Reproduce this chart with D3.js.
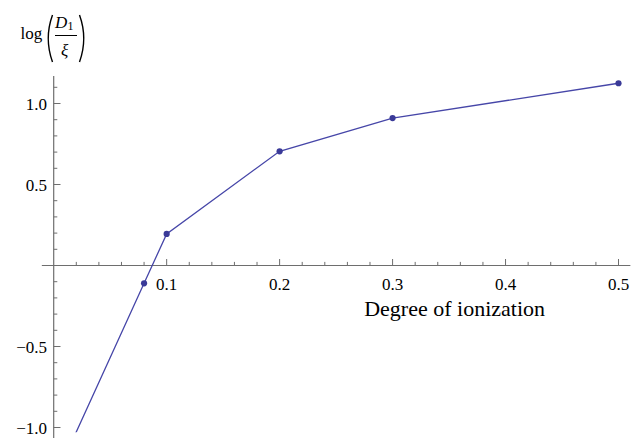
<!DOCTYPE html>
<html><head><meta charset="utf-8">
<script src="https://cdn.jsdelivr.net/npm/d3@7"></script>
<style>body{margin:0;background:#fff}svg{display:block}text{font-family:"Liberation Serif","Times New Roman",Times,serif;fill:#000}</style>
</head><body><svg id="c" width="640" height="438"></svg>
<script>
const ionization = [0.01, 0.08, 0.1, 0.2, 0.3, 0.5];
const logRatio   = [-1.18, -0.11, 0.195, 0.705, 0.91, 1.125];
const xMajorTicks = [0.1, 0.2, 0.3, 0.4, 0.5];
const xTickLabels = ["0.1", "0.2", "0.3", "0.4", "0.5"];
const yMajorTicks = [-1.0, -0.5, 0.5, 1.0];
const yTickLabels = ["\u22121.0", "\u22120.5", "0.5", "1.0"];
const xLabel = "Degree of ionization";

const svg = d3.select("#c");
const x = d3.scaleLinear().domain([0, 0.5]).range([53.7, 618.5]);
const y = d3.scaleLinear().domain([0, 1]).range([265.5, 103.5]);
const axisCol = "#6e6e6e", lineCol = "#4646a8", ptCol = "#3a3a98";

svg.append("defs").append("clipPath").attr("id","clip")
  .append("rect").attr("x",0).attr("y",0).attr("width",640).attr("height",y(-1.03));

// axes lines
svg.append("line").attr("x1",x(-0.0105)).attr("x2",x(0.5105)).attr("y1",y(0)).attr("y2",y(0))
  .attr("stroke",axisCol).attr("stroke-width",1.2);
svg.append("line").attr("x1",x(0)).attr("x2",x(0)).attr("y1",y(1.17)).attr("y2",438)
  .attr("stroke",axisCol).attr("stroke-width",1.2);

// x ticks
const xMinor = d3.range(1, 26).map(i => i*0.02).filter(v => !xMajorTicks.some(m => Math.abs(m-v)<1e-9));
svg.append("g").selectAll("line").data(xMinor).join("line")
  .attr("x1",d=>x(d)).attr("x2",d=>x(d)).attr("y1",y(0)).attr("y2",y(0)-3.6)
  .attr("stroke",axisCol).attr("stroke-width",1);
svg.append("g").selectAll("line").data(xMajorTicks).join("line")
  .attr("x1",d=>x(d)).attr("x2",d=>x(d)).attr("y1",y(0)).attr("y2",y(0)-6.5)
  .attr("stroke",axisCol).attr("stroke-width",1);
svg.append("g").selectAll("text").data(xMajorTicks).join("text")
  .attr("x",d=>x(d)).attr("y",289.5).attr("text-anchor","middle").attr("font-size",17)
  .text((d,i)=>xTickLabels[i]);

// y ticks
const yMinor = d3.range(-10, 12).map(i => i/10).filter(v => v!==0 && !yMajorTicks.some(m => Math.abs(m-v)<1e-9));
svg.append("g").selectAll("line").data(yMinor).join("line")
  .attr("x1",x(0)).attr("x2",x(0)+3.6).attr("y1",d=>y(d)).attr("y2",d=>y(d))
  .attr("stroke",axisCol).attr("stroke-width",1);
svg.append("g").selectAll("line").data(yMajorTicks).join("line")
  .attr("x1",x(0)).attr("x2",x(0)+6.8).attr("y1",d=>y(d)).attr("y2",d=>y(d))
  .attr("stroke",axisCol).attr("stroke-width",1);
svg.append("g").selectAll("text").data(yMajorTicks).join("text")
  .attr("x",47).attr("y",d=>y(d)+6).attr("text-anchor","end").attr("font-size",17)
  .text((d,i)=>yTickLabels[i]);

// data line + points
const pts = ionization.map((v,i)=>[v, logRatio[i]]);
svg.append("path").datum(pts).attr("clip-path","url(#clip)")
  .attr("d", d3.line().x(d=>x(d[0])).y(d=>y(d[1])))
  .attr("fill","none").attr("stroke",lineCol).attr("stroke-width",1.3);
svg.append("g").selectAll("circle").data(pts.filter(d=>y(d[1])<438)).join("circle")
  .attr("cx",d=>x(d[0])).attr("cy",d=>y(d[1])).attr("r",3.1).attr("fill",ptCol);

// x axis label
svg.append("text").attr("x",545).attr("y",316).attr("text-anchor","end").attr("font-size",22).text(xLabel);

// y axis label: log(D1/ξ)
const g = svg.append("g");
g.append("text").attr("x",20.5).attr("y",38.5).attr("font-size",17).text("log");
g.append("path").attr("d","M52.5,15 Q44,38.5 52.5,62").attr("fill","none").attr("stroke","#000").attr("stroke-width",1.4);
g.append("path").attr("d","M79.5,15 Q88,38.5 79.5,62").attr("fill","none").attr("stroke","#000").attr("stroke-width",1.4);
g.append("text").attr("x",55).attr("y",27.5).attr("font-size",17).attr("font-style","italic").text("D");
g.append("text").attr("x",67.5).attr("y",30).attr("font-size",12).text("1");
g.append("line").attr("x1",55).attr("x2",77).attr("y1",35.5).attr("y2",35.5).attr("stroke","#000").attr("stroke-width",1);
g.append("text").attr("x",61).attr("y",56).attr("font-size",17).attr("font-style","italic").text("ξ");
</script></body></html>
